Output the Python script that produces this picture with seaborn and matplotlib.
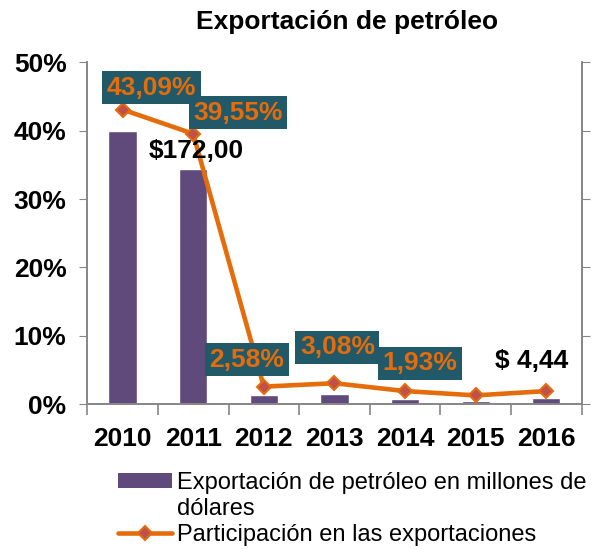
import matplotlib
matplotlib.use("Agg")
import matplotlib.pyplot as plt
from matplotlib.patches import Patch
from matplotlib.lines import Line2D
from matplotlib.ticker import FuncFormatter, FixedLocator
import seaborn as sns

# data
years = ["2010", "2011", "2012", "2013", "2014", "2015", "2016"]
exports_musd = [200.0, 172.0, 6.6, 7.8, 4.0, 2.6, 4.44]    # bars, right axis
share_pct = [43.09, 39.55, 2.58, 3.08, 1.93, 1.30, 1.93]    # line, left axis
share_labels = ["43,09%", "39,55%", "2,58%", "3,08%", "1,93%", None, None]
bar_labels = [None, "$172,00", None, None, None, None, "$ 4,44"]

# colours
purple = "#604A7B"
orange = "#E46C0A"
marker_red = "#C0504D"
teal = "#215968"
grey = "#868686"

sns.set_style("white")
plt.rcParams["font.family"] = ["Liberation Sans", "DejaVu Sans"]
plt.rcParams["text.color"] = "black"
plt.rcParams["xtick.labelcolor"] = "black"
plt.rcParams["ytick.labelcolor"] = "black"

fig = plt.figure(figsize=(5.94, 5.49), dpi=100)
ax_bar = fig.add_axes([0.147, 0.2636, 0.832, 0.6229])
ax_line = ax_bar.twinx()

# bars on the (unlabelled) right axis
sns.barplot(x=years, y=exports_musd, color=purple, width=0.4,
            saturation=1, errorbar=None, ax=ax_bar)
ax_bar.set_ylim(0, 250)
ax_bar.yaxis.tick_right()
ax_bar.set_yticks([0, 50, 100, 150, 200, 250])
ax_bar.tick_params(axis="y", which="major", direction="out", length=6,
                   color=grey, labelright=False, right=True, left=False)

# line with diamonds on the left percentage axis
sns.pointplot(x=years, y=share_pct, color=orange, markers="D",
              errorbar=None, linewidth=3.3, markersize=7.5,
              markeredgewidth=1.5, ax=ax_line)
for ln in ax_line.lines:
    ln.set_markerfacecolor(marker_red)
    ln.set_markeredgecolor(orange)
ax_line.set_ylim(0, 50)
ax_line.yaxis.tick_left()
ax_line.set_yticks([0, 10, 20, 30, 40, 50])
ax_line.yaxis.set_major_formatter(FuncFormatter(lambda v, p: f"{v:.0f}%"))
ax_line.tick_params(axis="y", direction="out", length=6, color=grey,
                    left=True, right=False, labelleft=True, labelright=False,
                    labelsize=19, pad=9)
for t in ax_line.get_yticklabels():
    t.set_fontweight("bold")

for a in (ax_bar, ax_line):
    a.set_xlim(-0.5, 6.5)
    a.set_xlabel("")
    a.set_ylabel("")
    a.spines["top"].set_visible(False)
    for s in ("left", "right", "bottom"):
        a.spines[s].set_color(grey)
        a.spines[s].set_linewidth(1.2)

# x ticks: labels at category centres, marks at the boundaries
ax_line.tick_params(axis="x", which="both", bottom=False, labelbottom=False)
ax_bar.xaxis.set_minor_locator(FixedLocator([i - 0.5 for i in range(len(years) + 1)]))
ax_bar.tick_params(axis="x", which="minor", direction="out", length=8,
                   color=grey, width=1.2, bottom=True)
ax_bar.tick_params(axis="x", which="major", length=0, labelsize=19, pad=16)
for t in ax_bar.get_xticklabels():
    t.set_fontweight("bold")

# percentage labels in teal boxes
share_offsets = [(29, 22), (45, 21), (-17, 27), (3, 36), (15, 28)]
for i, (lab, off) in enumerate(zip(share_labels, share_offsets)):
    if lab is None:
        continue
    ax_line.annotate(lab, xy=(i, share_pct[i]), xytext=off,
                     textcoords="offset pixels", ha="center", va="center",
                     fontsize=19, fontweight="bold", color=orange,
                     bbox=dict(boxstyle="square,pad=0.17", fc=teal, ec="none"),
                     zorder=5)

# bar value labels
bar_offsets = {1: (3, 18), 6: (-15, 37)}
for i, lab in enumerate(bar_labels):
    if lab is None:
        continue
    ax_line.annotate(lab, xy=(i, exports_musd[i] / 5.0), xytext=bar_offsets[i],
                     textcoords="offset pixels", ha="center", va="center",
                     fontsize=19, fontweight="bold", color="black", zorder=4)

fig.text(347 / 594, 1 - 22 / 549, "Exportación de petróleo", ha="center",
         va="center", fontsize=19, fontweight="bold")

handles = [Patch(facecolor=purple, edgecolor="none"),
           Line2D([], [], color="none"),
           Line2D([], [], color=orange, linewidth=3.3, marker="D",
                  markersize=7.5, markerfacecolor=marker_red,
                  markeredgecolor=orange, markeredgewidth=1.5)]
labels = ["Exportación de petróleo en millones de", "dólares",
          "Participación en las exportaciones"]
fig.legend(handles, labels, loc="upper left",
           bbox_to_anchor=(118 / 594, 1 - 472 / 549), frameon=False,
           fontsize=17, borderpad=0, borderaxespad=0, handlelength=2.3,
           handletextpad=0.2, labelspacing=0.17, handleheight=0.6)

fig.savefig("out.png", dpi=100)
